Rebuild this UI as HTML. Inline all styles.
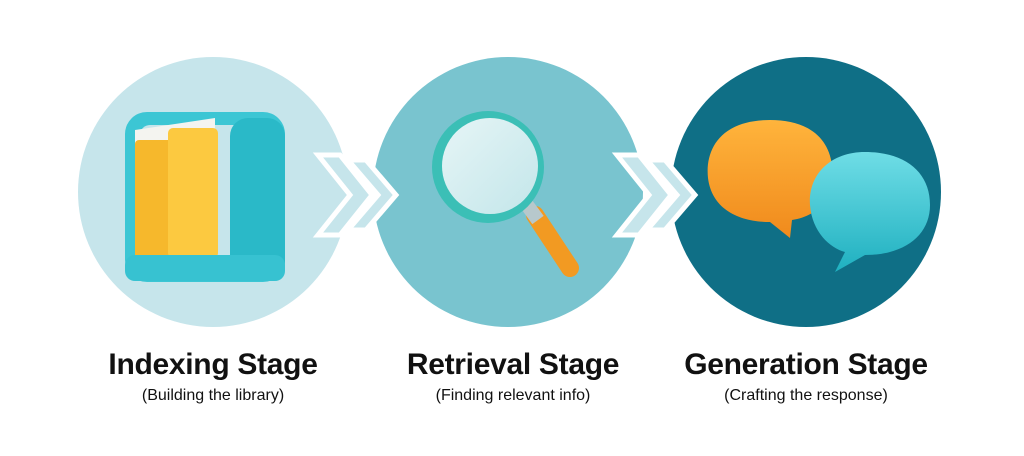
<!DOCTYPE html>
<html><head><style>
body{margin:0;width:1024px;height:456px;background:#fff;overflow:hidden;font-family:"Liberation Sans",sans-serif}
.t{position:absolute;text-align:center;width:340px;color:#111}
.h{font-size:30px;font-weight:bold;letter-spacing:-0.3px}
.s{font-size:16px;margin-top:5px}
</style></head><body>
<svg width="1024" height="456" style="position:absolute;left:0;top:0">
<defs>
<linearGradient id="lens" x1="0" y1="0" x2="1" y2="1"><stop offset="0" stop-color="#e6f5f6"/><stop offset="1" stop-color="#c3e6ea"/></linearGradient>
<linearGradient id="or" x1="0" y1="0" x2="0" y2="1"><stop offset="0" stop-color="#ffb43c"/><stop offset="1" stop-color="#f08a1c"/></linearGradient>
<linearGradient id="cy" x1="0" y1="0" x2="0" y2="1"><stop offset="0" stop-color="#6fdde6"/><stop offset="1" stop-color="#1fb0c0"/></linearGradient>
</defs>
<circle cx="213" cy="192" r="135" fill="#c6e5eb"/>
<circle cx="508" cy="192" r="135" fill="#79c4cf"/>
<circle cx="806" cy="192" r="135" fill="#0f6f86"/>
<g fill="#c6e5eb" stroke="#fff" stroke-width="5" stroke-linejoin="miter">
<polygon points="318,155 340,155 372,195 340,235 318,235 350,195"/>
<polygon points="348,160 366,160 396,195 366,230 348,230 378,195"/>
<polygon points="617,155 639,155 671,195 639,235 617,235 649,195"/>
<polygon points="647,160 665,160 695,195 665,230 647,230 677,195"/>
</g>
<rect x="125" y="112" width="160" height="170" rx="22" fill="#3cc6d4"/>
<rect x="140" y="125" width="130" height="145" rx="10" fill="#c6e5eb"/>
<path d="M135,130 L215,118 L215,255 L135,262Z" fill="#f4f4f0"/>
<rect x="135" y="140" width="38" height="122" rx="4" fill="#f6b82c"/>
<rect x="168" y="128" width="50" height="130" rx="5" fill="#fcc940"/>
<rect x="230" y="118" width="55" height="162" rx="18" fill="#2ab9c8"/>
<rect x="125" y="255" width="160" height="26" rx="10" fill="#37c2d1"/>
<line x1="535" y1="215" x2="570" y2="268" stroke="#f29a22" stroke-width="18" stroke-linecap="round"/>
<line x1="527" y1="205" x2="538" y2="220" stroke="#b7c8cc" stroke-width="14"/>
<circle cx="488" cy="167" r="56" fill="#3bbfb6"/>
<circle cx="490" cy="166" r="48" fill="url(#lens)"/>
<path d="M770,120 C720,120 705,150 708,178 C712,210 740,222 770,222 L790,238 L792,220 C825,215 835,190 832,165 C828,135 805,120 770,120Z" fill="url(#or)"/>
<path d="M865,152 C830,152 808,175 810,205 C812,232 830,248 845,252 L835,272 L865,255 C905,255 930,235 930,205 C930,172 905,152 865,152Z" fill="url(#cy)"/>
</svg>
<div class="t" style="left:43px;top:348px"><div class="h">Indexing Stage</div><div class="s">(Building the library)</div></div>
<div class="t" style="left:343px;top:348px"><div class="h">Retrieval Stage</div><div class="s">(Finding relevant info)</div></div>
<div class="t" style="left:636px;top:348px"><div class="h">Generation Stage</div><div class="s">(Crafting the response)</div></div>
</body></html>
